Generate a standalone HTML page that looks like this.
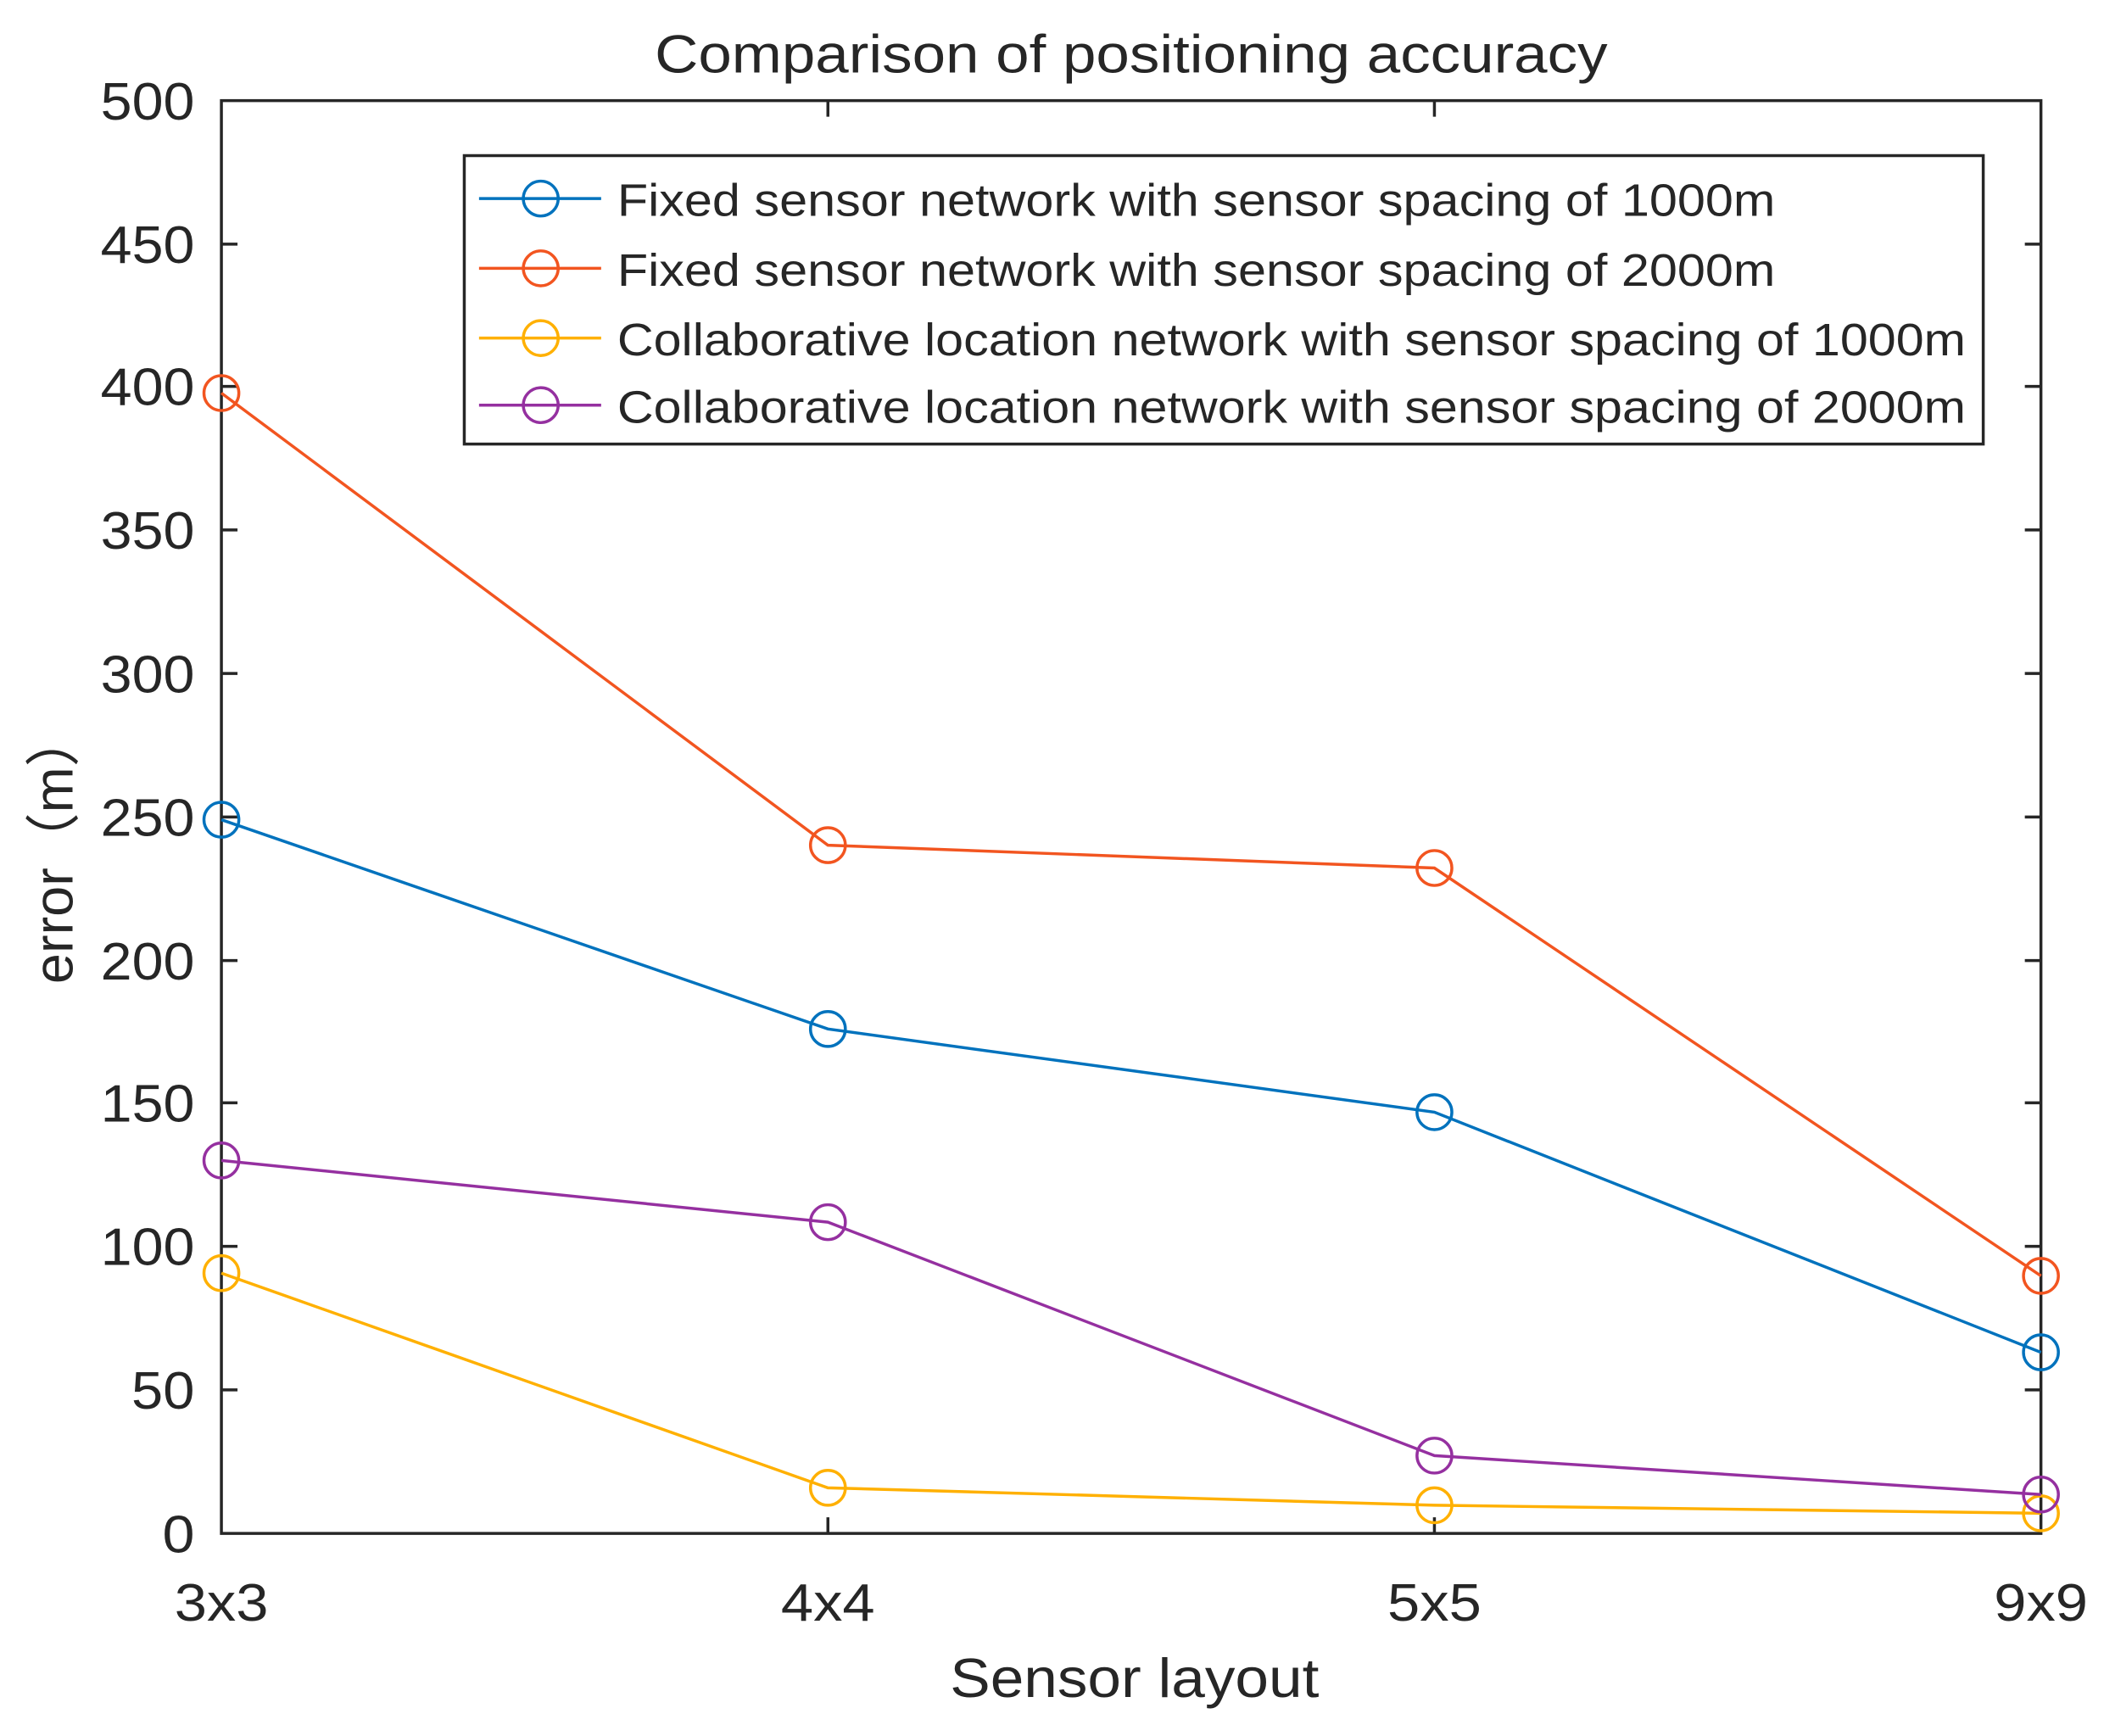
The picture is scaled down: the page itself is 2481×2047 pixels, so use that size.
<!DOCTYPE html>
<html><head><meta charset="utf-8"><style>
html,body{margin:0;padding:0;background:#fff;}
svg{display:block;}
text{font-family:"Liberation Sans",sans-serif;fill:#262626;}
</style></head><body>
<svg width="2481" height="2047" viewBox="0 0 1568 1294" preserveAspectRatio="none" xmlns="http://www.w3.org/2000/svg">
<rect width="1568" height="1294" fill="#fff"/>
<text x="488" y="54" font-size="40" textLength="710" lengthAdjust="spacingAndGlyphs">Comparison of positioning accuracy</text>
<g stroke="#262626" stroke-width="2.2" fill="none">
<rect x="165" y="75" width="1356" height="1068"/>
<path d="M165 182h12M165 288h12M165 395h12M165 502h12M165 609h12M165 716h12M165 822h12M165 929h12M165 1036h12
M1521 182h-12M1521 288h-12M1521 395h-12M1521 502h-12M1521 609h-12M1521 716h-12M1521 822h-12M1521 929h-12M1521 1036h-12
M617 75v12M1069 75v12M617 1143v-12M1069 1143v-12"/>
</g>
<g font-size="39">
<text x="75" y="89" textLength="70" lengthAdjust="spacingAndGlyphs">500</text>
<text x="75" y="196" textLength="70" lengthAdjust="spacingAndGlyphs">450</text>
<text x="75" y="302" textLength="70" lengthAdjust="spacingAndGlyphs">400</text>
<text x="75" y="409" textLength="70" lengthAdjust="spacingAndGlyphs">350</text>
<text x="75" y="516" textLength="70" lengthAdjust="spacingAndGlyphs">300</text>
<text x="75" y="623" textLength="70" lengthAdjust="spacingAndGlyphs">250</text>
<text x="75" y="730" textLength="70" lengthAdjust="spacingAndGlyphs">200</text>
<text x="75" y="836" textLength="70" lengthAdjust="spacingAndGlyphs">150</text>
<text x="75" y="943" textLength="70" lengthAdjust="spacingAndGlyphs">100</text>
<text x="98" y="1050" textLength="47" lengthAdjust="spacingAndGlyphs">50</text>
<text x="121" y="1157" textLength="24" lengthAdjust="spacingAndGlyphs">0</text>
</g>
<g font-size="39">
<text x="130" y="1208" textLength="70" lengthAdjust="spacingAndGlyphs">3x3</text>
<text x="582" y="1208" textLength="70" lengthAdjust="spacingAndGlyphs">4x4</text>
<text x="1034" y="1208" textLength="70" lengthAdjust="spacingAndGlyphs">5x5</text>
<text x="1486" y="1208" textLength="70" lengthAdjust="spacingAndGlyphs">9x9</text>
</g>
<text x="708" y="1265" font-size="41" textLength="275" lengthAdjust="spacingAndGlyphs">Sensor layout</text>
<text transform="translate(54,632) rotate(-90)" font-size="41" text-anchor="middle">error（m）</text>
<g fill="none" stroke-width="2.2">
<g stroke="#0072BD"><polyline points="165,611 617,767 1069,829 1521,1008"/>
<circle cx="165" cy="611" r="13"/><circle cx="617" cy="767" r="13"/><circle cx="1069" cy="829" r="13"/><circle cx="1521" cy="1008" r="13"/></g>
<g stroke="#F25520"><polyline points="165,293 617,630 1069,647 1521,951"/>
<circle cx="165" cy="293" r="13"/><circle cx="617" cy="630" r="13"/><circle cx="1069" cy="647" r="13"/><circle cx="1521" cy="951" r="13"/></g>
<g stroke="#FFB000"><polyline points="165,949 617,1109 1069,1122 1521,1128"/>
<circle cx="165" cy="949" r="13"/><circle cx="617" cy="1109" r="13"/><circle cx="1069" cy="1122" r="13"/><circle cx="1521" cy="1128" r="13"/></g>
<g stroke="#9530A0"><polyline points="165,865 617,911 1069,1085 1521,1114"/>
<circle cx="165" cy="865" r="13"/><circle cx="617" cy="911" r="13"/><circle cx="1069" cy="1085" r="13"/><circle cx="1521" cy="1114" r="13"/></g>
</g>
<rect x="346" y="116" width="1132" height="215" fill="#fff" stroke="#262626" stroke-width="2.2"/>
<g fill="none" stroke-width="2.2">
<g stroke="#0072BD"><path d="M357 148h91"/><circle cx="403" cy="148" r="13"/></g>
<g stroke="#F25520"><path d="M357 200h91"/><circle cx="403" cy="200" r="13"/></g>
<g stroke="#FFB000"><path d="M357 252h91"/><circle cx="403" cy="252" r="13"/></g>
<g stroke="#9530A0"><path d="M357 302h91"/><circle cx="403" cy="302" r="13"/></g>
</g>
<g font-size="34">
<text x="460" y="161" textLength="863" lengthAdjust="spacingAndGlyphs">Fixed sensor network with sensor spacing of 1000m</text>
<text x="460" y="213" textLength="863" lengthAdjust="spacingAndGlyphs">Fixed sensor network with sensor spacing of 2000m</text>
<text x="460" y="265" textLength="1005" lengthAdjust="spacingAndGlyphs">Collaborative location network with sensor spacing of 1000m</text>
<text x="460" y="315" textLength="1005" lengthAdjust="spacingAndGlyphs">Collaborative location network with sensor spacing of 2000m</text>
</g>
</svg>
</body></html>
